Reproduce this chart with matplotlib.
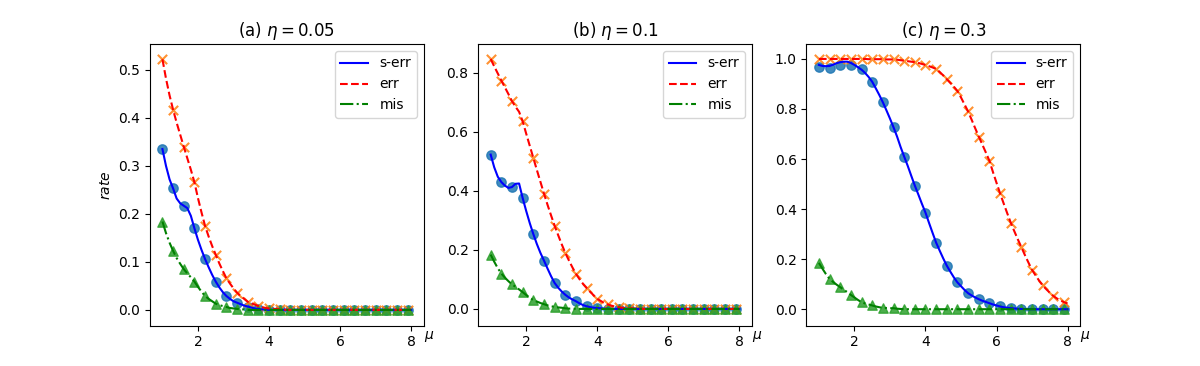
import numpy as np
import matplotlib
matplotlib.use("Agg")
import matplotlib.pyplot as plt

# fine grid for the curves, coarse grid for the markers
mu_line = np.round(np.arange(1.0, 8.05, 0.1), 1)
mu_mark = [1.0, 1.3, 1.6, 1.9, 2.2, 2.5, 2.8, 3.1, 3.4, 3.7, 4.0, 4.3,
           4.6, 4.9, 5.2, 5.5, 5.8, 6.1, 6.4, 6.7, 7.0, 7.3, 7.6, 7.9]

titles = [r"(a) $\eta=0.05$", r"(b) $\eta=0.1$", r"(c) $\eta=0.3$"]
labels = ["s-err", "err", "mis"]
ylims = [(-0.033, 0.554), (-0.057, 0.898), (-0.066, 1.06)]

# ---- panel (a) ----
a_serr_line = [0.335, 0.300, 0.272, 0.253, 0.232, 0.222, 0.217, 0.212, 0.196, 0.170,
               0.146, 0.125, 0.106, 0.089, 0.073, 0.059, 0.047, 0.037, 0.029, 0.023,
               0.018, 0.015, 0.012, 0.009, 0.007, 0.005, 0.003, 0.002, 0.001, 0.001,
               0.0, 0.0, 0.0, 0.0, 0.0, 0.0, 0.0, 0.0, 0.0, 0.0,
               0.0, 0.0, 0.0, 0.0, 0.0, 0.0, 0.0, 0.0, 0.0, 0.0,
               0.0, 0.0, 0.0, 0.0, 0.0, 0.0, 0.0, 0.0, 0.0, 0.0,
               0.0, 0.0, 0.0, 0.0, 0.0, 0.0, 0.0, 0.0, 0.0, 0.0, 0.0]
a_err_line = [0.522, 0.482, 0.447, 0.417, 0.390, 0.365, 0.340, 0.316, 0.292, 0.266,
              0.233, 0.203, 0.175, 0.153, 0.133, 0.115, 0.097, 0.081, 0.066, 0.055,
              0.045, 0.036, 0.029, 0.023, 0.017, 0.014, 0.011, 0.008, 0.006, 0.004,
              0.003, 0.002, 0.002, 0.001, 0.001, 0.0, 0.0, 0.0, 0.0, 0.0,
              0.0, 0.0, 0.0, 0.0, 0.0, 0.0, 0.0, 0.0, 0.0, 0.0,
              0.0, 0.0, 0.0, 0.0, 0.0, 0.0, 0.0, 0.0, 0.0, 0.0,
              0.0, 0.0, 0.0, 0.0, 0.0, 0.0, 0.0, 0.0, 0.0, 0.0, 0.0]
a_mis_line = [0.184, 0.160, 0.140, 0.123, 0.108, 0.096, 0.085, 0.076, 0.068, 0.059,
              0.048, 0.038, 0.029, 0.023, 0.018, 0.013, 0.010, 0.008, 0.006, 0.004,
              0.003, 0.002, 0.001, 0.001, 0.0, 0.0, 0.0, 0.0, 0.0, 0.0,
              0.0, 0.0, 0.0, 0.0, 0.0, 0.0, 0.0, 0.0, 0.0, 0.0,
              0.0, 0.0, 0.0, 0.0, 0.0, 0.0, 0.0, 0.0, 0.0, 0.0,
              0.0, 0.0, 0.0, 0.0, 0.0, 0.0, 0.0, 0.0, 0.0, 0.0,
              0.0, 0.0, 0.0, 0.0, 0.0, 0.0, 0.0, 0.0, 0.0, 0.0, 0.0]
a_serr_mark = [0.335, 0.253, 0.217, 0.170, 0.106, 0.059, 0.029, 0.015, 0.007, 0.002, 0.0, 0.0,
               0.0, 0.0, 0.0, 0.0, 0.0, 0.0, 0.0, 0.0, 0.0, 0.0, 0.0, 0.0]
a_err_mark = [0.522, 0.417, 0.340, 0.266, 0.175, 0.115, 0.066, 0.036, 0.017, 0.008, 0.003, 0.001,
              0.0, 0.0, 0.0, 0.0, 0.0, 0.0, 0.0, 0.0, 0.0, 0.0, 0.0, 0.0]
a_mis_mark = [0.184, 0.123, 0.085, 0.059, 0.029, 0.013, 0.006, 0.002, 0.0, 0.0, 0.0, 0.0,
              0.0, 0.0, 0.0, 0.0, 0.0, 0.0, 0.0, 0.0, 0.0, 0.0, 0.0, 0.0]

# ---- panel (b) ----
b_serr_line = [0.523, 0.480, 0.448, 0.430, 0.418, 0.410, 0.413, 0.424, 0.425, 0.376,
               0.332, 0.291, 0.254, 0.220, 0.190, 0.164, 0.137, 0.111, 0.088, 0.072,
               0.059, 0.048, 0.039, 0.032, 0.026, 0.019, 0.013, 0.009, 0.006, 0.004,
               0.003, 0.002, 0.001, 0.001, 0.0, 0.0, 0.0, 0.0, 0.0, 0.0,
               0.0, 0.0, 0.0, 0.0, 0.0, 0.0, 0.0, 0.0, 0.0, 0.0,
               0.0, 0.0, 0.0, 0.0, 0.0, 0.0, 0.0, 0.0, 0.0, 0.0,
               0.0, 0.0, 0.0, 0.0, 0.0, 0.0, 0.0, 0.0, 0.0, 0.0, 0.0]
b_err_line = [0.847, 0.822, 0.798, 0.774, 0.751, 0.728, 0.704, 0.685, 0.668, 0.636,
              0.594, 0.553, 0.512, 0.471, 0.431, 0.391, 0.353, 0.317, 0.282, 0.250,
              0.219, 0.190, 0.165, 0.141, 0.119, 0.101, 0.085, 0.071, 0.058, 0.046,
              0.034, 0.027, 0.020, 0.015, 0.011, 0.008, 0.006, 0.004, 0.003, 0.002,
              0.002, 0.001, 0.001, 0.0, 0.0, 0.0, 0.0, 0.0, 0.0, 0.0,
              0.0, 0.0, 0.0, 0.0, 0.0, 0.0, 0.0, 0.0, 0.0, 0.0,
              0.0, 0.0, 0.0, 0.0, 0.0, 0.0, 0.0, 0.0, 0.0, 0.0, 0.0]
b_mis_line = [0.184, 0.160, 0.138, 0.120, 0.106, 0.094, 0.083, 0.075, 0.066, 0.057,
              0.047, 0.038, 0.030, 0.025, 0.020, 0.016, 0.012, 0.009, 0.007, 0.005,
              0.004, 0.002, 0.001, 0.001, 0.0, 0.0, 0.0, 0.0, 0.0, 0.0,
              0.0, 0.0, 0.0, 0.0, 0.0, 0.0, 0.0, 0.0, 0.0, 0.0,
              0.0, 0.0, 0.0, 0.0, 0.0, 0.0, 0.0, 0.0, 0.0, 0.0,
              0.0, 0.0, 0.0, 0.0, 0.0, 0.0, 0.0, 0.0, 0.0, 0.0,
              0.0, 0.0, 0.0, 0.0, 0.0, 0.0, 0.0, 0.0, 0.0, 0.0, 0.0]
b_serr_mark = [0.523, 0.430, 0.413, 0.376, 0.254, 0.164, 0.088, 0.048, 0.026, 0.009, 0.003, 0.001,
               0.0, 0.0, 0.0, 0.0, 0.0, 0.0, 0.0, 0.0, 0.0, 0.0, 0.0, 0.0]
b_err_mark = [0.847, 0.774, 0.704, 0.636, 0.512, 0.391, 0.282, 0.190, 0.119, 0.071, 0.034, 0.015,
              0.006, 0.002, 0.001, 0.0, 0.0, 0.0, 0.0, 0.0, 0.0, 0.0, 0.0, 0.0]
b_mis_mark = [0.184, 0.120, 0.083, 0.057, 0.030, 0.016, 0.007, 0.002, 0.0, 0.0, 0.0, 0.0,
              0.0, 0.0, 0.0, 0.0, 0.0, 0.0, 0.0, 0.0, 0.0, 0.0, 0.0, 0.0]

# ---- panel (c) ----
c_serr_line = [0.976, 0.972, 0.971, 0.972, 0.977, 0.983, 0.987, 0.989, 0.989, 0.984,
               0.976, 0.967, 0.957, 0.944, 0.928, 0.909, 0.883, 0.856, 0.827, 0.795,
               0.762, 0.727, 0.690, 0.648, 0.610, 0.573, 0.533, 0.494, 0.458, 0.421,
               0.386, 0.345, 0.305, 0.266, 0.234, 0.203, 0.174, 0.150, 0.127, 0.107,
               0.092, 0.077, 0.064, 0.055, 0.047, 0.040, 0.034, 0.029, 0.024, 0.019,
               0.015, 0.011, 0.008, 0.006, 0.004, 0.003, 0.002, 0.001, 0.001, 0.0,
               0.0, 0.0, 0.0, 0.0, 0.0, 0.0, 0.0, 0.0, 0.0, 0.0, 0.0]
c_err_line = [1.0, 1.0, 1.0, 1.0, 1.0, 1.0, 1.0, 1.0, 1.0, 1.0,
              1.0, 1.0, 1.0, 1.0, 0.999, 0.999, 0.999, 0.999, 0.999, 0.998,
              0.998, 0.998, 0.997, 0.995, 0.993, 0.991, 0.989, 0.987, 0.984, 0.980,
              0.976, 0.971, 0.966, 0.960, 0.948, 0.934, 0.919, 0.904, 0.889, 0.872,
              0.846, 0.818, 0.790, 0.757, 0.723, 0.690, 0.658, 0.626, 0.593, 0.548,
              0.505, 0.463, 0.423, 0.384, 0.346, 0.312, 0.279, 0.248, 0.216, 0.186,
              0.157, 0.135, 0.114, 0.095, 0.080, 0.066, 0.053, 0.043, 0.035, 0.028, 0.023]
c_mis_line = [0.185, 0.162, 0.140, 0.121, 0.109, 0.098, 0.088, 0.078, 0.068, 0.057,
              0.047, 0.037, 0.028, 0.023, 0.019, 0.015, 0.011, 0.008, 0.005, 0.005,
              0.004, 0.004, 0.002, 0.001, 0.0, 0.0, 0.0, 0.0, 0.0, 0.0,
              0.0, 0.0, 0.0, 0.0, 0.0, 0.0, 0.0, 0.0, 0.0, 0.0,
              0.0, 0.0, 0.0, 0.0, 0.0, 0.0, 0.0, 0.0, 0.0, 0.0,
              0.0, 0.0, 0.0, 0.0, 0.0, 0.0, 0.0, 0.0, 0.0, 0.0,
              0.0, 0.0, 0.0, 0.0, 0.0, 0.0, 0.0, 0.0, 0.0, 0.0, 0.0]
c_serr_mark = [0.969, 0.963, 0.976, 0.976, 0.959, 0.909, 0.827, 0.727, 0.610, 0.494, 0.386, 0.266,
               0.174, 0.107, 0.064, 0.040, 0.024, 0.011, 0.004, 0.001, 0.0, 0.0, 0.0, 0.0]
c_err_mark = [1.0, 1.0, 1.0, 1.0, 1.0, 0.999, 0.999, 0.998, 0.993, 0.987, 0.976, 0.960,
              0.919, 0.872, 0.790, 0.690, 0.593, 0.463, 0.346, 0.248, 0.157, 0.095, 0.053, 0.028]
c_mis_mark = [0.185, 0.121, 0.088, 0.057, 0.028, 0.015, 0.005, 0.004, 0.0, 0.0, 0.0, 0.0,
              0.0, 0.0, 0.0, 0.0, 0.0, 0.0, 0.0, 0.0, 0.0, 0.0, 0.0, 0.0]

lines = [(a_serr_line, a_err_line, a_mis_line),
         (b_serr_line, b_err_line, b_mis_line),
         (c_serr_line, c_err_line, c_mis_line)]
marks = [(a_serr_mark, a_err_mark, a_mis_mark),
         (b_serr_mark, b_err_mark, b_mis_mark),
         (c_serr_mark, c_err_mark, c_mis_mark)]

line_styles = ["b-", "r--", "g-."]
mark_styles = [("o", "C0"), ("x", "C1"), ("^", "C2")]

fig, axes = plt.subplots(1, 3, figsize=(12, 3.66), dpi=100)

for ax, title, ln, mk, yl in zip(axes, titles, lines, marks, ylims):
    for ys, (m, c) in zip(mk, mark_styles):
        ax.scatter(mu_mark, ys, marker=m, color=c, s=45, alpha=0.85)
    for ys, st, lab in zip(ln, line_styles, labels):
        ax.plot(mu_line, ys, st, label=lab)
    ax.set_ylim(*yl)
    ax.set_title(title)
    ax.legend(loc="upper right")
    ax.set_xlabel(r"$\mu$")
    ax.xaxis.set_label_coords(1.02, -0.01)

axes[0].set_ylabel(r"$rate$")

plt.savefig("out.png", dpi=100)
